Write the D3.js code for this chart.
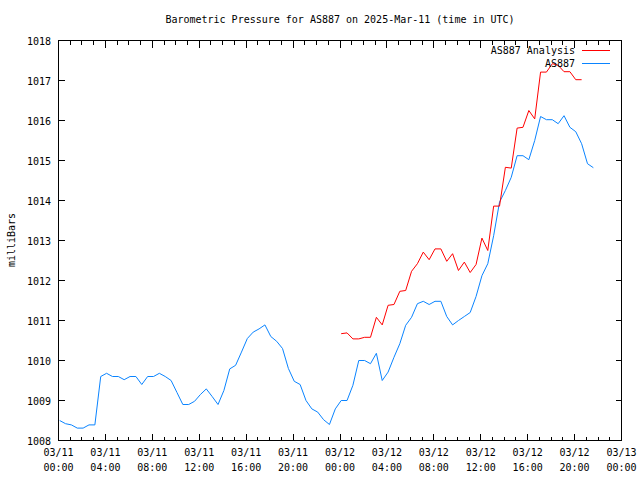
<!DOCTYPE html>
<html><head><meta charset="utf-8">
<script src="https://cdn.jsdelivr.net/npm/d3@7"></script>
<style>body{margin:0;background:#fff}svg{display:block}text{font-family:"DejaVu Sans Mono",monospace;font-size:10px;fill:#000}</style>
</head><body><svg id="c" width="640" height="480"></svg>
<script>
// hours after 2025-03-11 00:00 UTC
const stationHours = [0.1,0.6,1.1,1.6,2.1,2.6,3.1,3.6,4.1,4.6,5.1,5.6,6.1,6.6,7.1,7.6,8.1,8.6,9.1,9.6,10.1,10.6,11.1,11.6,12.1,12.6,13.1,13.6,14.1,14.6,15.1,15.6,16.1,16.6,17.1,17.6,18.1,18.6,19.1,19.6,20.1,20.6,21.1,21.6,22.1,22.6,23.1,23.6,24.1,24.6,25.1,25.6,26.1,26.6,27.1,27.6,28.1,28.6,29.1,29.6,30.1,30.6,31.1,31.6,32.1,32.6,33.1,33.6,34.1,34.6,35.1,35.6,36.1,36.6,37.1,37.6,38.1,38.6,39.1,39.6,40.1,40.6,41.1,41.6,42.1,42.6,43.1,43.6,44.1,44.6,45.1,45.6];
const stationValues = [1008.5,1008.42,1008.39,1008.31,1008.31,1008.39,1008.39,1009.6,1009.68,1009.6,1009.6,1009.52,1009.6,1009.6,1009.4,1009.6,1009.6,1009.68,1009.6,1009.5,1009.2,1008.9,1008.9,1008.98,1009.15,1009.29,1009.1,1008.9,1009.25,1009.79,1009.88,1010.21,1010.55,1010.71,1010.79,1010.89,1010.6,1010.48,1010.3,1009.8,1009.48,1009.4,1009.0,1008.79,1008.71,1008.52,1008.4,1008.79,1009.0,1009.0,1009.38,1010.0,1010.0,1009.92,1010.18,1009.5,1009.71,1010.08,1010.42,1010.88,1011.08,1011.42,1011.48,1011.4,1011.48,1011.48,1011.1,1010.89,1011.0,1011.1,1011.2,1011.6,1012.12,1012.42,1013.12,1013.96,1014.25,1014.58,1015.12,1015.12,1015.02,1015.5,1016.1,1016.02,1016.02,1015.92,1016.12,1015.83,1015.72,1015.42,1014.92,1014.82];
const analysisHours = [24.1,24.6,25.1,25.6,26.1,26.6,27.1,27.6,28.1,28.6,29.1,29.6,30.1,30.6,31.1,31.6,32.1,32.6,33.1,33.6,34.1,34.6,35.1,35.6,36.1,36.6,37.1,37.6,38.1,38.6,39.1,39.6,40.1,40.6,41.1,41.6,42.1,42.6,43.1,43.6,44.1,44.6];
const analysisValues = [1010.67,1010.69,1010.54,1010.54,1010.58,1010.58,1011.08,1010.89,1011.38,1011.4,1011.73,1011.75,1012.23,1012.42,1012.71,1012.52,1012.79,1012.79,1012.48,1012.67,1012.25,1012.46,1012.2,1012.4,1013.06,1012.75,1013.86,1013.86,1014.83,1014.81,1015.81,1015.83,1016.25,1016.04,1017.21,1017.21,1017.42,1017.38,1017.22,1017.22,1017.02,1017.02];
const yTicks = [1008,1009,1010,1011,1012,1013,1014,1015,1016,1017,1018];
const xTickDates = ["03/11","03/11","03/11","03/11","03/11","03/11","03/12","03/12","03/12","03/12","03/12","03/12","03/13"];
const xTickTimes = ["00:00","04:00","08:00","12:00","16:00","20:00","00:00","04:00","08:00","12:00","16:00","20:00","00:00"];
const xTickHours = [0,4,8,12,16,20,24,28,32,36,40,44,48];
const xMinorHours = [1,2,3,5,6,7,9,10,11,13,14,15,17,18,19,21,22,23,25,26,27,29,30,31,33,34,35,37,38,39,41,42,43,45,46,47];
const seriesNames = ["AS887 Analysis","AS887"];
const seriesColors = ["#ff0000","#0a84ff"];

const L=58.5,R=621.5,T=40.5,B=440.5;
const svg=d3.select("#c");
const x=d3.scaleLinear().domain([0,48]).range([L,R]);
const y=d3.scaleLinear().domain([1008,1018]).range([B,T]);
const g=svg.append("g").attr("shape-rendering","crispEdges");

// ticks
const tk=g.append("g").attr("stroke","#000").attr("stroke-width",1);
xTickHours.forEach(h=>{
  tk.append("line").attr("x1",x(h)).attr("x2",x(h)).attr("y1",B).attr("y2",B-7);
  tk.append("line").attr("x1",x(h)).attr("x2",x(h)).attr("y1",T).attr("y2",T+7);
});
xMinorHours.forEach(h=>{
  tk.append("line").attr("x1",x(h)).attr("x2",x(h)).attr("y1",B).attr("y2",B-4);
  tk.append("line").attr("x1",x(h)).attr("x2",x(h)).attr("y1",T).attr("y2",T+4);
});
yTicks.forEach(v=>{
  tk.append("line").attr("x1",L).attr("x2",L+6).attr("y1",y(v)).attr("y2",y(v));
  tk.append("line").attr("x1",R).attr("x2",R-6).attr("y1",y(v)).attr("y2",y(v));
});
g.append("rect").attr("x",L).attr("y",T).attr("width",R-L).attr("height",B-T).attr("fill","none").attr("stroke","#000");

// labels
yTicks.forEach(v=>{
  svg.append("text").attr("x",51).attr("y",y(v)+4).attr("text-anchor","end").text(v);
});
xTickHours.forEach((h,i)=>{
  svg.append("text").attr("x",x(h)).attr("y",456).attr("text-anchor","middle").text(xTickDates[i]);
  svg.append("text").attr("x",x(h)).attr("y",471).attr("text-anchor","middle").text(xTickTimes[i]);
});
svg.append("text").attr("x",340).attr("y",23).attr("text-anchor","middle").text("Barometric Pressure for AS887 on 2025-Mar-11 (time in UTC)");
svg.append("text").attr("transform","translate(15,240) rotate(-90)").attr("text-anchor","middle").text("milliBars");

// lines
const line=d3.line().x(d=>x(d[0])).y(d=>y(d[1]));
const plot=svg.append("g");
plot.append("path").datum(stationHours.map((h,i)=>[h,stationValues[i]]))
  .attr("d",line).attr("fill","none").attr("stroke",seriesColors[1]).attr("stroke-width",1);
plot.append("path").datum(analysisHours.map((h,i)=>[h,analysisValues[i]]))
  .attr("d",line).attr("fill","none").attr("stroke",seriesColors[0]).attr("stroke-width",1);

// legend
seriesNames.forEach((n,i)=>{
  const yy=50.5+i*12.5;
  svg.append("text").attr("x",575).attr("y",yy+3.5).attr("text-anchor","end").text(n);
  svg.append("line").attr("x1",582).attr("x2",610).attr("y1",yy).attr("y2",yy)
    .attr("stroke",seriesColors[i]).attr("stroke-width",1).attr("shape-rendering","crispEdges");
});
</script></body></html>
